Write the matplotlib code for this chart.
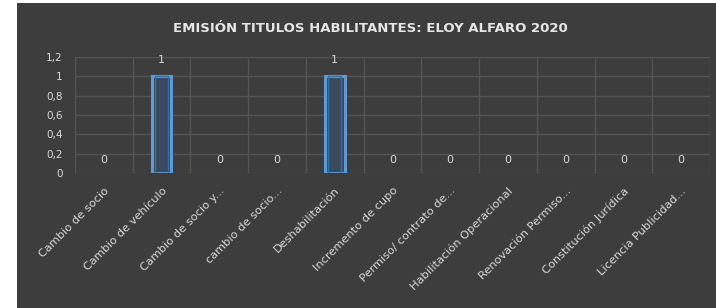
import numpy as np
import matplotlib.pyplot as plt

categorias = ['Cambio de socio', 'Cambio de vehículo', 'Cambio de socio y...',
              'cambio de socio...', 'Deshabilitación', 'Incremento de cupo',
              'Permiso/ contrato de...', 'Habilitación Operacional',
              'Renovación Permiso...', 'Constitución Jurídica',
              'Licencia Publicidad...']
valores = [0, 1, 0, 0, 1, 0, 0, 0, 0, 0, 0]
yticks = [0, 0.2, 0.4, 0.6, 0.8, 1, 1.2]
ytick_labels = ['0', '0,2', '0,4', '0,6', '0,8', '1', '1,2']

bg = '#3d3d3d'
txt = '#d9d9d9'

fig = plt.figure(figsize=(7.16, 3.08), dpi=100, facecolor='white')
# panel oscuro (franja blanca a la izquierda como en la captura)
fig.patches.append(plt.Rectangle((17/716, 0), 1, 1 - 3/308, transform=fig.transFigure,
                                 facecolor=bg, edgecolor='none', zorder=-1))

ax = fig.add_axes([75/716, 1 - 173/308, 635/716, 116/308])
ax.set_facecolor(bg)

x = np.arange(len(categorias))
lw = [2.2 if v > 0 else 0 for v in valores]
ax.bar(x, valores, width=0.34, facecolor='#3a4a5a', edgecolor='#5b9bd5', linewidth=lw, zorder=3)
ax.bar(x, valores, width=0.22, facecolor='none', edgecolor='#2f6fae',
       linewidth=[w / 2.2 for w in lw], zorder=4)

for xi, v in zip(x, valores):
    ax.text(xi, 1.17 if v > 0 else 0.13, str(v), ha='center', va='center',
            color=txt, fontsize=8, zorder=5)

ax.set_xlim(-0.5, len(categorias) - 0.5)
ax.set_ylim(0, 1.2)
ax.set_yticks(yticks)
ax.set_yticklabels(ytick_labels, color=txt, fontsize=7.5)
ax.set_xticks(x)
ax.set_xticklabels(categorias, rotation=45, ha='right', rotation_mode='anchor',
                   color=txt, fontsize=8.2)
ax.set_xticks(np.arange(-0.5, len(categorias), 1), minor=True)
ax.tick_params(which='both', length=0, pad=9)
ax.grid(axis='y', color='#545454', linewidth=1, zorder=0)
ax.grid(axis='x', which='minor', color='#545454', linewidth=1, zorder=0)
ax.grid(axis='x', which='major', visible=False)
for s in ax.spines.values():
    s.set_visible(False)

fig.text(370/716, 1 - 28/308, 'EMISIÓN TITULOS HABILITANTES: ELOY ALFARO 2020',
         ha='center', va='center', color='#e6e6e6', fontsize=9.5, fontweight='bold')

fig.savefig('out.png', dpi=100, facecolor=fig.get_facecolor())
